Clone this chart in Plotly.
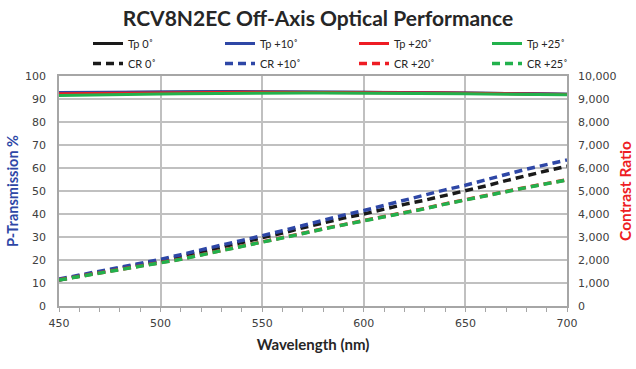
import plotly.graph_objects as go

wavelength = [450, 460, 470, 480, 490, 500, 510, 520, 530, 540, 550, 560, 570,
              580, 590, 600, 610, 620, 630, 640, 650, 660, 670, 680, 690, 700]

tp_0 = [92.6, 92.7, 92.8, 92.9, 93.0, 93.0, 93.1, 93.1, 93.1, 93.1, 93.1, 93.1, 93.0,
        93.0, 92.9, 92.9, 92.8, 92.8, 92.7, 92.7, 92.6, 92.5, 92.4, 92.3, 92.2, 92.1]
tp_10 = [92.8, 92.9, 93.0, 93.1, 93.1, 93.2, 93.2, 93.2, 93.2, 93.2, 93.1, 93.1, 93.0,
         93.0, 92.9, 92.9, 92.8, 92.8, 92.7, 92.6, 92.6, 92.5, 92.4, 92.3, 92.2, 92.1]
tp_20 = [92.3, 92.4, 92.5, 92.6, 92.7, 92.8, 92.8, 92.9, 92.9, 92.9, 92.9, 92.9, 92.9,
         92.8, 92.8, 92.8, 92.7, 92.7, 92.6, 92.6, 92.5, 92.4, 92.3, 92.2, 92.1, 92.0]
tp_25 = [91.5, 91.7, 91.8, 92.0, 92.1, 92.2, 92.3, 92.4, 92.5, 92.5, 92.6, 92.6, 92.6,
         92.6, 92.6, 92.6, 92.5, 92.5, 92.5, 92.4, 92.3, 92.2, 92.1, 92.0, 91.9, 91.8]

cr_0 = [1130, 1300, 1440, 1620, 1780, 1960, 2150, 2360, 2560, 2760, 2950, 3170, 3400,
        3620, 3820, 4000, 4220, 4420, 4600, 4800, 5000, 5220, 5450, 5680, 5880, 6080]
cr_10 = [1170, 1340, 1500, 1670, 1840, 2030, 2230, 2450, 2650, 2850, 3050, 3270, 3500,
         3730, 3950, 4150, 4380, 4600, 4830, 5050, 5250, 5500, 5720, 5950, 6150, 6350]
cr_20 = [1140, 1290, 1430, 1590, 1730, 1890, 2040, 2230, 2410, 2590, 2780, 2960, 3160,
         3360, 3530, 3710, 3880, 4060, 4240, 4440, 4630, 4810, 4980, 5160, 5340, 5490]
cr_25 = [1130, 1280, 1420, 1580, 1720, 1880, 2030, 2220, 2400, 2580, 2770, 2950, 3150,
         3350, 3520, 3700, 3870, 4050, 4230, 4430, 4620, 4800, 4970, 5150, 5330, 5480]

tp_names = ["Tp 0˚", "Tp +10˚", "Tp +20˚", "Tp +25˚"]
cr_names = ["CR 0˚", "CR +10˚", "CR +20˚", "CR +25˚"]
colors = ["#1a1a1a", "#2e47a6", "#ee1c24", "#22b14c"]
tp_series = [tp_0, tp_10, tp_20, tp_25]
cr_series = [cr_0, cr_10, cr_20, cr_25]

W, H = 636, 369
L, R, T, B = 59, 69, 76, 63
PW, PH = W - L - R, H - T - B

fig = go.Figure()
legend_ids = ["legend", "legend2", "legend3", "legend4"]
for i in range(4):
    fig.add_trace(go.Scatter(x=wavelength, y=tp_series[i], name=tp_names[i], mode="lines",
                             line=dict(color=colors[i], width=3), legend=legend_ids[i],
                             legendgroup="tp%d" % i, legendrank=1))
for i in range(4):
    fig.add_trace(go.Scatter(x=wavelength, y=cr_series[i], name=cr_names[i], mode="lines",
                             yaxis="y2", line=dict(color=colors[i], width=3.5, dash="8px,5px"),
                             legend=legend_ids[i], legendgroup="cr%d" % i, legendrank=2))

tick_font = dict(family="DejaVu Sans", size=11, color="#404040")
grid = "#c0c0c0"

layout_legends = {}
legend_px = [88, 220, 354, 487]
for lid, px in zip(legend_ids, legend_px):
    layout_legends[lid] = dict(
        orientation="v", x=(px - L) / PW, y=(H - B - 29) / PH,
        xref="paper", yref="paper", xanchor="left", yanchor="top",
        font=dict(family="Lato", size=11, color="#262626"),
        bgcolor="rgba(0,0,0,0)", tracegroupgap=1, itemwidth=30,
        traceorder="grouped")

fig.update_layout(
    width=W, height=H,
    margin=dict(l=L, r=R, t=T, b=B, autoexpand=False),
    paper_bgcolor="white", plot_bgcolor="white",
    title=dict(text="<b>RCV8N2EC Off-Axis Optical Performance</b>",
               font=dict(family="Lato", size=21, color="#262626"),
               x=0.5, xanchor="center", y=0.95, yanchor="middle"),
    xaxis=dict(range=[450, 700], tickvals=[450, 500, 550, 600, 650, 700],
               showgrid=True, gridcolor=grid, gridwidth=1.5,
               showline=True, linecolor="#a6a6a6", linewidth=1.5, mirror=True,
               ticks="", tickfont=tick_font, ticklabelstandoff=6,
               minor=dict(dtick=10, ticks="outside", ticklen=4, tickcolor="#a6a6a6", showgrid=False),
               title=dict(text="<b>Wavelength (nm)</b>",
                          font=dict(family="Lato", size=15, color="#262626"), standoff=11),
               zeroline=False),
    yaxis=dict(range=[0, 100], dtick=10, showgrid=True, gridcolor=grid, gridwidth=1.5,
               showline=True, linecolor="#a6a6a6", linewidth=1.5,
               ticks="", tickfont=tick_font, zeroline=False, ticklabelstandoff=9,
               title=dict(text="<b>P-Transmission %</b>",
                          font=dict(family="Lato", size=14.5, color="#2e47a6"), standoff=3)),
    yaxis2=dict(range=[0, 10000], dtick=1000, overlaying="y", side="right",
                showgrid=False, showline=True, linecolor="#a6a6a6", linewidth=1.5,
                ticks="", tickfont=tick_font, tickformat=",d", zeroline=False,
                ticklabelstandoff=7,
                title=dict(text="<b>Contrast Ratio</b>",
                           font=dict(family="Lato", size=15.5, color="#ee1c24"), standoff=5)),
    **layout_legends,
)

fig.write_html("out.html")
